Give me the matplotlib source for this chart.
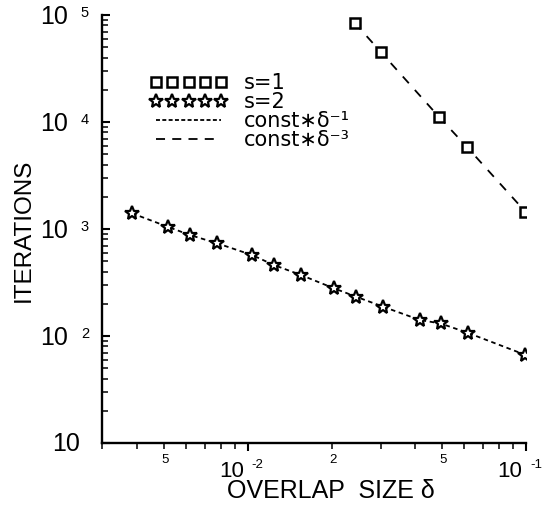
import matplotlib
matplotlib.use('Agg')
import matplotlib.pyplot as plt
from matplotlib.lines import Line2D
from matplotlib.transforms import offset_copy, blended_transform_factory
from matplotlib.ticker import LogLocator, NullFormatter, FixedLocator

plt.rcParams['font.family'] = ['Liberation Sans', 'DejaVu Sans']

# ---- data ----
delta_s1 = [0.0242, 0.0300, 0.0486, 0.0612, 0.0995]
iter_s1 = [84700, 45400, 11200, 5880, 1450]

delta_s2 = [0.00384, 0.00515, 0.00618, 0.00776, 0.01036, 0.0124, 0.0155,
            0.0204, 0.0245, 0.0306, 0.0416, 0.0493, 0.0618, 0.0989]
iter_s2 = [1400, 1050, 880, 735, 571, 461, 372, 279, 233, 188, 141, 131,
           107, 67]

x_major_ticks = [1e-2, 1e-1]
x_major_exps = ['-2', '-1']
x_minor_labeled = [5e-3, 2e-2, 5e-2]
x_minor_labels = ['5', '2', '5']
y_major_ticks = [1e1, 1e2, 1e3, 1e4, 1e5]
y_major_exps = ['', '2', '3', '4', '5']
legend_labels = ['s=1', 's=2', 'const∗δ⁻¹', 'const∗δ⁻³']

W, H = 546, 515
fig = plt.figure(figsize=(W / 100, H / 100), dpi=100)
L, R, B, T = 102, 526, 443, 15
ax = fig.add_axes([L / W, 1 - B / H, (R - L) / W, (B - T) / H])
ax.set_xscale('log')
ax.set_yscale('log')
ax.set_xlim(2.99e-3, 0.1)
ax.set_ylim(10, 1e5)

for s in ['top', 'right']:
    ax.spines[s].set_visible(False)
for s in ['left', 'bottom']:
    ax.spines[s].set_linewidth(1.7)

ax.yaxis.set_major_locator(FixedLocator(y_major_ticks))
ax.yaxis.set_minor_locator(LogLocator(base=10, subs=range(2, 10), numticks=20))
ax.xaxis.set_major_locator(FixedLocator(x_major_ticks))
ax.xaxis.set_minor_locator(LogLocator(base=10, subs=range(2, 10), numticks=20))
ax.xaxis.set_major_formatter(NullFormatter())
ax.xaxis.set_minor_formatter(NullFormatter())
ax.yaxis.set_major_formatter(NullFormatter())
ax.yaxis.set_minor_formatter(NullFormatter())
ax.tick_params(axis='y', which='major', direction='in', length=6, width=1.5)
ax.tick_params(axis='y', which='minor', direction='in', length=4, width=1.1)
ax.tick_params(axis='x', which='major', direction='out', length=6, width=1.5)
ax.tick_params(axis='x', which='minor', direction='out', length=4, width=1.1)

# ---- data marks ----
ax.plot(delta_s1, iter_s1, color='black', lw=1.3, dashes=(5, 5),
        marker='s', ms=7.5, mfc='white', mec='black', mew=1.8, zorder=3)
ax.plot(delta_s2, iter_s2, color='black', lw=1.3, dashes=(2.5, 2),
        marker='*', ms=10.5, mfc='white', mec='black', mew=1.6, zorder=3)

# ---- tick labels (as text) ----
px = 0.72  # points per pixel
ytr = blended_transform_factory(ax.transAxes, ax.transData)
for v, e in zip(y_major_ticks, y_major_exps):
    if e == '':
        ax.text(0, v, '10', transform=offset_copy(ytr, fig, x=-22 * px, y=-1 * px, units='points'),
                ha='right', va='center', fontsize=18)
    else:
        ax.text(0, v, '10', transform=offset_copy(ytr, fig, x=-34 * px, y=-2 * px, units='points'),
                ha='right', va='center', fontsize=18)
        ax.text(0, v, e, transform=offset_copy(ytr, fig, x=-13 * px, y=9 * px, units='points'),
                ha='right', va='top', fontsize=10.5)

xtr = blended_transform_factory(ax.transData, ax.transAxes)
for v, e in zip(x_major_ticks, x_major_exps):
    ax.text(v, 0, '10', transform=offset_copy(xtr, fig, x=-4 * px, y=-18 * px, units='points'),
            ha='right', va='top', fontsize=16)
    ax.text(v, 0, e, transform=offset_copy(xtr, fig, x=4 * px, y=-16 * px, units='points'),
            ha='left', va='top', fontsize=9.5)
for v, lab in zip(x_minor_labeled, x_minor_labels):
    ax.text(v, 0, lab, transform=offset_copy(xtr, fig, x=1 * px, y=-11 * px, units='points'),
            ha='center', va='top', fontsize=9.5)

# ---- axis titles ----
fig.text(24 / W, 1 - 230 / H, 'ITERATIONS', rotation=90, ha='center', va='center',
         fontsize=17.5)
fig.text(331 / W, 1 - 491 / H, 'OVERLAP  SIZE δ', ha='center', va='center',
         fontsize=18)

# ---- legend ----
handles = [
    Line2D([], [], ls='none', marker='s', ms=7.5, mfc='white', mec='black', mew=1.8),
    Line2D([], [], ls='none', marker='*', ms=10.5, mfc='white', mec='black', mew=1.6),
    Line2D([], [], color='black', lw=1.3, dashes=(2.2, 1.3)),
    Line2D([], [], color='black', lw=1.3, dashes=(5, 4)),
]
leg = ax.legend(handles, legend_labels, loc='upper left',
                bbox_to_anchor=((150 - L) / (R - L), (B - 73) / (B - T)),
                frameon=False, numpoints=5, handlelength=3.7,
                handletextpad=0.8, labelspacing=-0.05, borderpad=0, borderaxespad=0,
                prop={'family': ['DejaVu Sans'], 'size': 15})

fig.savefig('out.png', dpi=100)
